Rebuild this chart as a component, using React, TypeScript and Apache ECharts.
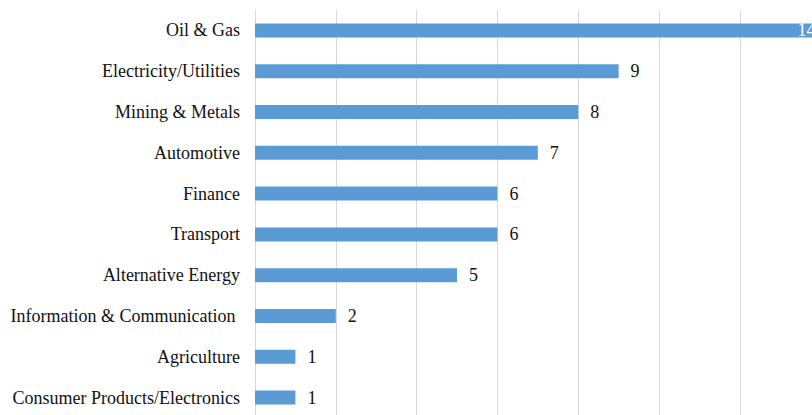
import React, { useEffect, useRef } from "react";
import * as echarts from "echarts";

const categories = [
  "Oil & Gas",
  "Electricity/Utilities",
  "Mining & Metals",
  "Automotive",
  "Finance",
  "Transport",
  "Alternative Energy",
  "Information & Communication\u00a0",
  "Agriculture",
  "Consumer Products/Electronics",
];
const values = [14, 9, 8, 7, 6, 6, 5, 2, 1, 1];

export default function App() {
  const ref = useRef<HTMLDivElement>(null);
  useEffect(() => {
    if (!ref.current) return;
    const chart = echarts.init(ref.current, null, { renderer: "svg" });
    const font = "Liberation Serif";
    chart.setOption({
      animation: false,
      grid: { left: 255, top: 10, width: 565.6, height: 408, containLabel: false },
      xAxis: {
        type: "value",
        min: 0,
        max: 14,
        interval: 2,
        axisLabel: { show: false },
        axisLine: { show: false },
        axisTick: { show: false },
        splitLine: { show: true, lineStyle: { color: "#d9d9d9", width: 1 } },
      },
      yAxis: {
        type: "category",
        data: categories,
        inverse: true,
        axisTick: { show: false },
        axisLine: { show: true, lineStyle: { color: "#d9d9d9", width: 1 } },
        axisLabel: { color: "#111", fontSize: 18, fontFamily: font, margin: 15 },
      },
      series: [
        {
          type: "bar",
          data: values.map((v, i) => ({
            value: v,
            label:
              i === 0
                ? { position: "insideRight", color: "#fff", distance: 5 }
                : undefined,
          })),
          barWidth: 14,
          itemStyle: { color: "#5b9bd5" },
          label: {
            show: true,
            position: "right",
            distance: 12,
            color: "#111",
            fontSize: 18,
            fontFamily: font,
          },
        },
      ],
    });
    return () => chart.dispose();
  }, []);
  return (
    <div
      style={{
        position: "fixed",
        left: 0,
        top: 0,
        width: 812,
        height: 415,
        overflow: "hidden",
        background: "#fff",
      }}
    >
      <div ref={ref} style={{ width: 830, height: 420 }} />
    </div>
  );
}
